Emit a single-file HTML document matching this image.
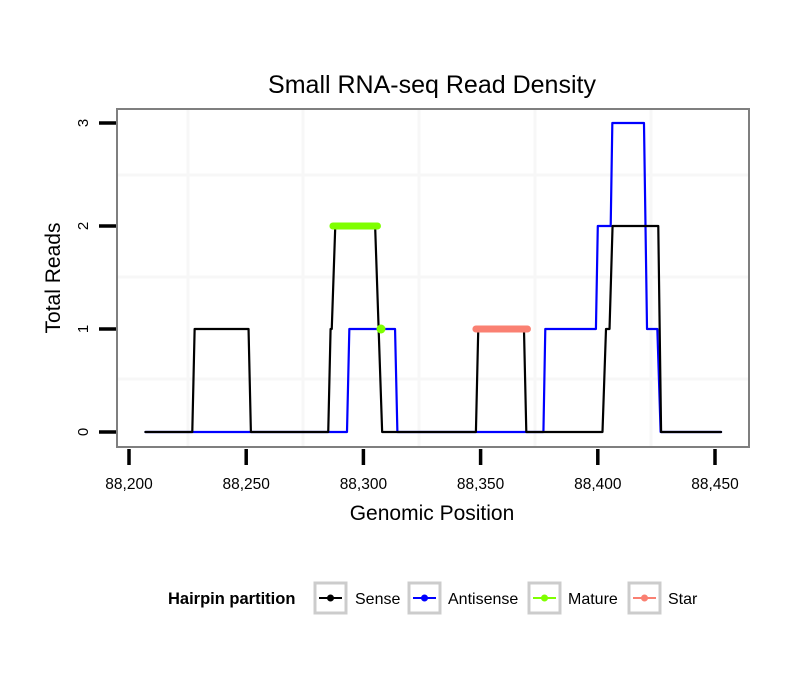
<!DOCTYPE html>
<html><head><meta charset="utf-8"><style>
body{margin:0;background:#fff;}
svg text{font-family:"Liberation Sans",sans-serif;}
</style></head><body>
<svg id="chart" width="810" height="690" viewBox="0 0 810 690" xmlns="http://www.w3.org/2000/svg">
<rect width="810" height="690" fill="#fff"/>
<text x="432" y="93" font-size="25" text-anchor="middle">Small RNA-seq Read Density</text>
<g id="grid"></g>
<g id="series"></g>
<rect x="117" y="109" width="632" height="338" fill="none" stroke="#7f7f7f" stroke-width="2"/>
<g id="axes"></g>
<text x="432" y="520" font-size="21" text-anchor="middle">Genomic Position</text>
<text transform="translate(60,278) rotate(-90)" font-size="21" text-anchor="middle">Total Reads</text>
<g>
<text x="168" y="604" font-size="16.5" font-weight="bold">Hairpin partition</text>
<g><rect x="315" y="583" width="31" height="30" fill="#fff" stroke="#ccc" stroke-width="3"/><line x1="319" y1="598" x2="342" y2="598" stroke="#000" stroke-width="2"/><circle cx="330.5" cy="598" r="3.5" fill="#000"/><text x="355" y="604" font-size="16">Sense</text></g>
<g><rect x="409" y="583" width="31" height="30" fill="#fff" stroke="#ccc" stroke-width="3"/><line x1="413" y1="598" x2="436" y2="598" stroke="#00f" stroke-width="2"/><circle cx="424.5" cy="598" r="3.5" fill="#00f"/><text x="448" y="604" font-size="16">Antisense</text></g>
<g><rect x="529" y="583" width="31" height="30" fill="#fff" stroke="#ccc" stroke-width="3"/><line x1="533" y1="598" x2="556" y2="598" stroke="#7fff00" stroke-width="2"/><circle cx="544.5" cy="598" r="3.5" fill="#7fff00"/><text x="568" y="604" font-size="16">Mature</text></g>
<g><rect x="629" y="583" width="31" height="30" fill="#fff" stroke="#ccc" stroke-width="3"/><line x1="633" y1="598" x2="656" y2="598" stroke="#fa8072" stroke-width="2"/><circle cx="644.5" cy="598" r="3.5" fill="#fa8072"/><text x="668" y="604" font-size="16">Star</text></g>
</g>
</svg>
<script>
const xTicks=[88200,88250,88300,88350,88400,88450];
const xTickLabels=["88,200","88,250","88,300","88,350","88,400","88,450"];
const yTicks=[0,1,2,3];
const yTickLabels=["0","1","2","3"];
const senseX=[88207,88227,88228,88251,88252,88285,88286,88286.5,88288,88305,88308,88348,88349,88368.5,88369.5,88402,88403.5,88405,88406.3,88425.8,88427,88452.6];
const senseY=[0,0,1,1,0,0,1,1,2,2,0,0,1,1,0,0,1,1,2,2,0,0];
const antiX=[88207,88293,88294,88313.5,88314.5,88376.8,88377.6,88399.2,88400,88405.5,88406.2,88419.7,88421,88425.4,88426.8,88452.6];
const antiY=[0,0,1,1,0,0,1,1,2,2,3,3,1,1,0,0];
const matureX=[88287,88306];
const matureY=[2,2];
const maturePointX=[88307.5];
const maturePointY=[1];
const starX=[88348,88370];
const starY=[1,1];
function sx(v){return 129+(v-88200)*2.344;}
function sy(v){return 432-103*v;}
const NS="http://www.w3.org/2000/svg";
function mk(t,a,p){const e=document.createElementNS(NS,t);for(const k in a)e.setAttribute(k,a[k]);p.appendChild(e);return e;}
const grid=document.getElementById('grid');
[188,303,419,535,651].forEach(x=>{const l=mk('line',{x1:x,x2:x,y1:110,y2:446,stroke:'#f7f7f7','stroke-width':3},grid);

});
[175,277,379].forEach(y=>{const l=mk('line',{x1:118,x2:748,y1:y,y2:y,stroke:'#f7f7f7','stroke-width':3},grid);

});
const axes=document.getElementById('axes');
xTicks.forEach((v,i)=>{const x=sx(v);
const t=mk('line',{x1:x,x2:x,y1:449,y2:465,stroke:'#000','stroke-width':3.5},axes);


const lb=mk('text',{x:x,y:489,'font-size':15.5,'text-anchor':'middle'},axes);lb.textContent=xTickLabels[i];

});
yTicks.forEach((v,i)=>{const y=sy(v);
const t=mk('line',{x1:99,x2:116,y1:y,y2:y,stroke:'#000','stroke-width':3.5},axes);


const lb=mk('text',{transform:'translate(88,'+y+') rotate(-90)','font-size':15,'text-anchor':'middle'},axes);lb.textContent=yTickLabels[i];

});
const ser=document.getElementById('series');
function poly(xs,ys,col,w,name){const p=mk('polyline',{points:xs.map((x,i)=>sx(x)+','+sy(ys[i])).join(' '),fill:'none',stroke:col,'stroke-width':w,'stroke-linecap':'round','stroke-linejoin':'round'},ser);

}
poly(antiX,antiY,'#0000ff',2.2,'antisense-line');
poly(senseX,senseY,'#000',2.2,'sense-line');
poly(matureX,matureY,'#7fff00',7,'mature-line');
poly(starX,starY,'#fa8072',7,'star-line');
maturePointX.forEach((x,i)=>{const c=mk('circle',{cx:sx(x),cy:sy(maturePointY[i]),r:4.5,fill:'#7fff00'},ser);

});
</script>
</body></html>
